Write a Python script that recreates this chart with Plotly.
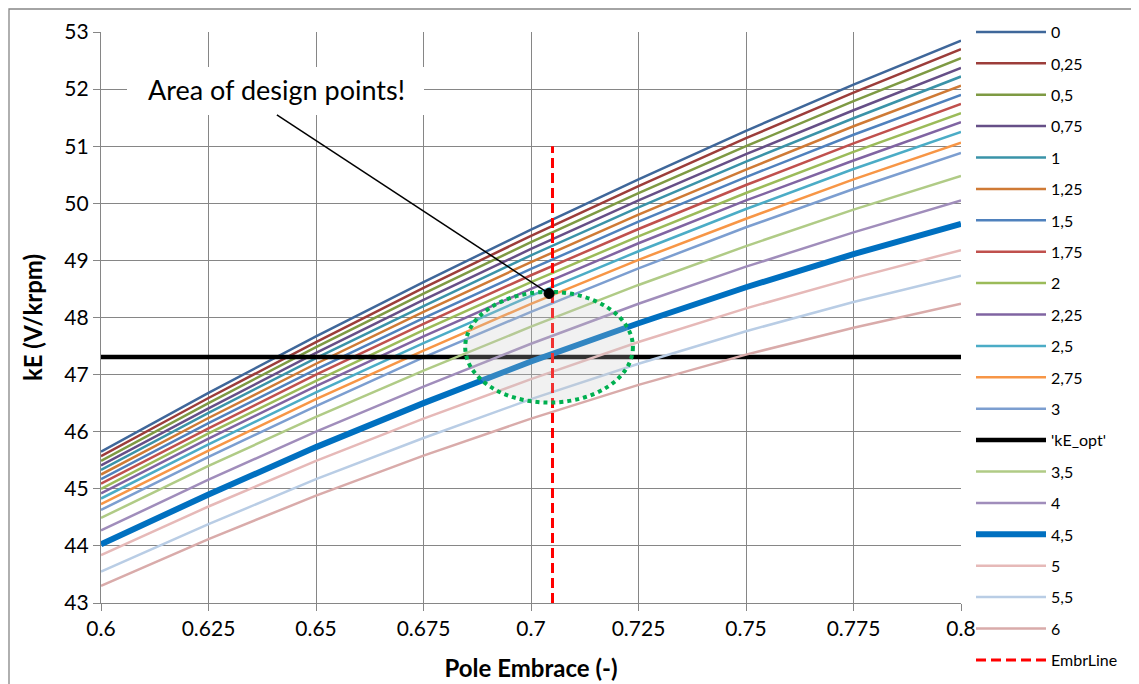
import plotly.graph_objects as go

# ---------------- data ----------------
pole_embrace = [0.6, 0.625, 0.65, 0.675, 0.7, 0.725, 0.75, 0.775, 0.8]
x_tick_text = ["0.6", "0.625", "0.65", "0.675", "0.7", "0.725", "0.75", "0.775", "0.8"]
y_ticks = [43, 44, 45, 46, 47, 48, 49, 50, 51, 52, 53]

kE_0    = [45.65, 46.68, 47.67, 48.62, 49.54, 50.42, 51.27, 52.08, 52.85]
kE_0_25 = [45.57, 46.59, 47.57, 48.52, 49.43, 50.30, 51.14, 51.94, 52.70]
kE_0_5  = [45.49, 46.50, 47.48, 48.42, 49.32, 50.18, 51.00, 51.79, 52.54]
kE_0_75 = [45.41, 46.41, 47.38, 48.31, 49.20, 50.05, 50.86, 51.63, 52.37]
kE_1    = [45.33, 46.33, 47.29, 48.20, 49.09, 49.93, 50.73, 51.49, 52.22]
kE_1_25 = [45.25, 46.24, 47.19, 48.10, 48.97, 49.80, 50.59, 51.35, 52.06]
kE_1_5  = [45.17, 46.15, 47.09, 47.99, 48.85, 49.68, 50.46, 51.20, 51.90]
kE_1_75 = [45.09, 46.06, 47.00, 47.89, 48.74, 49.55, 50.32, 51.05, 51.74]
kE_2    = [45.00, 45.97, 46.89, 47.78, 48.62, 49.42, 50.18, 50.90, 51.58]
kE_2_25 = [44.92, 45.88, 46.80, 47.67, 48.50, 49.30, 50.05, 50.75, 51.42]
kE_2_5  = [44.83, 45.78, 46.69, 47.55, 48.38, 49.16, 49.90, 50.60, 51.25]
kE_2_75 = [44.73, 45.67, 46.57, 47.42, 48.24, 49.01, 49.73, 50.42, 51.06]
kE_3    = [44.63, 45.56, 46.45, 47.30, 48.10, 48.86, 49.58, 50.25, 50.88]
kE_3_5  = [44.49, 45.40, 46.26, 47.07, 47.84, 48.57, 49.25, 49.89, 50.48]
kE_4    = [44.27, 45.16, 46.00, 46.79, 47.54, 48.24, 48.89, 49.49, 50.05]
kE_4_5  = [44.03, 44.90, 45.73, 46.50, 47.23, 47.90, 48.53, 49.11, 49.64]
kE_5    = [43.84, 44.69, 45.49, 46.23, 46.92, 47.57, 48.16, 48.69, 49.18]
kE_5_5  = [43.55, 44.38, 45.17, 45.89, 46.57, 47.19, 47.76, 48.27, 48.73]
kE_6    = [43.30, 44.12, 44.88, 45.58, 46.23, 46.82, 47.35, 47.82, 48.24]

kE_opt_value = 47.31
kE_opt_x = [0.6, 0.8]
embr_x = 0.705
embr_y = [43, 51]

design_point = (0.7042, 48.42)
design_area = dict(x0=0.6847, x1=0.7237, y0=46.51, y1=48.45)
label_text = "Area of design points!"
label_pos = (0.6407, 52.0)
label_line_start = (0.6409, 51.55)

# ---------------- styling ----------------
FONT = "Lato, 'Open Sans', sans-serif"
GRID = "#868686"

# plot area in window pixels: x 101..961, y 32..603 ; page body has an 8px margin
OFF = 8
PL, PR, PT, PB = 101, 961, 32, 603
PW, PH = PR - PL, PB - PT
FIG_W, FIG_H = 1139 - OFF, 684 - OFF


def px_x(px):
    return (px - PL) / PW


def px_y(py):
    return (PB - py) / PH


series = [
    ("0", kE_0, "#3F679A", 2.5),
    ("0,25", kE_0_25, "#9C3D3A", 2.5),
    ("0,5", kE_0_5, "#7E9A43", 2.5),
    ("0,75", kE_0_75, "#664F87", 2.5),
    ("1", kE_1, "#3A93A8", 2.5),
    ("1,25", kE_1_25, "#CF7A35", 2.5),
    ("1,5", kE_1_5, "#4F81BD", 2.5),
    ("1,75", kE_1_75, "#C0504D", 2.5),
    ("2", kE_2, "#9BBB59", 2.5),
    ("2,25", kE_2_25, "#8064A2", 2.5),
    ("2,5", kE_2_5, "#4BACC6", 2.5),
    ("2,75", kE_2_75, "#F79646", 2.5),
    ("3", kE_3, "#7C9ED0", 2.5),
    ("'kE_opt'", None, "#000000", 4.5),
    ("3,5", kE_3_5, "#B0CB86", 2.5),
    ("4", kE_4, "#A08DBB", 2.5),
    ("4,5", kE_4_5, "#0070C0", 6),
    ("5", kE_5, "#E6B9B8", 2.5),
    ("5,5", kE_5_5, "#B9CDE5", 2.5),
    ("6", kE_6, "#D9ABAA", 2.5),
]

fig = go.Figure()
for i, (name, vals, color, width) in enumerate(series):
    if vals is None:
        xs = kE_opt_x
        ys = [kE_opt_value] * len(kE_opt_x)
    else:
        xs = pole_embrace
        ys = vals
    fig.add_trace(go.Scatter(
        x=xs, y=ys, mode="lines", name=name,
        line=dict(color=color, width=width),
        legendgroup=f"g{i:02d}", hoverinfo="skip",
    ))

fig.add_trace(go.Scatter(
    x=[embr_x, embr_x], y=embr_y, mode="lines", name="EmbrLine",
    line=dict(color="#FF0000", width=3, dash="10px,5px"),
    legendgroup="g99", hoverinfo="skip",
))

shapes = [
    # outer chart border
    dict(type="rect", xref="paper", yref="paper",
         x0=px_x(9), x1=1.4, y0=-0.4, y1=px_y(9),
         line=dict(color="#868686", width=1.3), fillcolor="rgba(0,0,0,0)", layer="below"),
    # white label box
    dict(type="rect", xref="paper", yref="paper",
         x0=px_x(127), x1=px_x(424), y0=px_y(115), y1=px_y(67),
         line=dict(width=0), fillcolor="white", layer="above"),
    # pointer line
    dict(type="line", xref="x", yref="y",
         x0=label_line_start[0], y0=label_line_start[1],
         x1=design_point[0], y1=design_point[1],
         line=dict(color="black", width=1.5), layer="above"),
    # design area ellipse
    dict(type="circle", xref="x", yref="y", **design_area,
         line=dict(color="#00B050", width=4, dash="4px,4px"),
         fillcolor="rgba(200,200,200,0.25)", layer="above"),
    # design point
    dict(type="circle", xref="x", yref="y",
         xsizemode="pixel", ysizemode="pixel",
         xanchor=design_point[0], yanchor=design_point[1],
         x0=-5, x1=5, y0=-5, y1=5,
         line=dict(color="black", width=1), fillcolor="black", layer="above"),
]

fig.update_layout(
    width=FIG_W, height=FIG_H,
    margin=dict(l=PL - OFF, r=FIG_W - (PR - OFF), t=PT - OFF, b=FIG_H - (PB - OFF), autoexpand=False),
    paper_bgcolor="white", plot_bgcolor="white",
    font=dict(family=FONT, size=16, color="black"),
    showlegend=True,
    legend=dict(
        x=px_x(971), xanchor="left",
        y=px_y(15), yanchor="top",
        font=dict(family=FONT, size=16, color="black"),
        tracegroupgap=7.6, itemwidth=70,
        bgcolor="rgba(0,0,0,0)", borderwidth=0,
        traceorder="grouped", maxheight=1000,
    ),
    shapes=shapes,
    annotations=[dict(
        x=label_pos[0], y=label_pos[1], xref="x", yref="y",
        text=label_text, showarrow=False,
        font=dict(family=FONT, size=27, color="black"),
    )],
)

fig.update_xaxes(
    range=[0.6, 0.8], tickvals=pole_embrace, ticktext=x_tick_text,
    showgrid=True, gridcolor=GRID, gridwidth=1.3,
    showline=True, linecolor=GRID, linewidth=1.3,
    ticks="outside", ticklen=7, tickcolor=GRID, tickwidth=1.3,
    zeroline=False, automargin=False,
    tickfont=dict(family=FONT, size=21, color="black"),
    title=dict(text="<b>Pole Embrace (-)</b>", font=dict(family=FONT, size=24, color="black"), standoff=20),
)
fig.update_yaxes(
    range=[43, 53], tickvals=y_ticks,
    showgrid=True, gridcolor=GRID, gridwidth=1.3,
    showline=True, linecolor=GRID, linewidth=1.3,
    ticks="outside", ticklen=7, tickcolor=GRID, tickwidth=1.3,
    zeroline=False, automargin=False,
    tickfont=dict(family=FONT, size=21, color="black"),
    title=dict(text="<b>kE (V/krpm)</b>", font=dict(family=FONT, size=24, color="black"), standoff=14),
)

fig.write_html("out.html")
